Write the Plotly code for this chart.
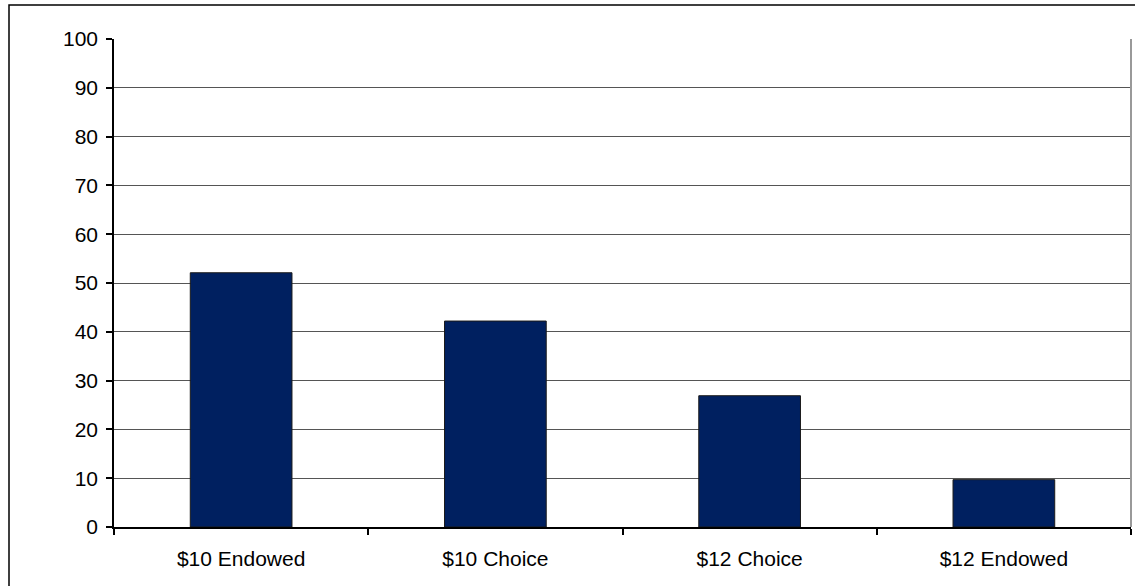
import plotly.graph_objects as go

categories = ["$10 Endowed", "$10 Choice", "$12 Choice", "$12 Endowed"]
values = [52.1, 42.2, 26.9, 9.7]
y_ticks = [0, 10, 20, 30, 40, 50, 60, 70, 80, 90, 100]

fig = go.Figure()
fig.add_trace(go.Bar(
    x=categories, y=values,
    marker=dict(color="#002060", line=dict(color="#1a1a1a", width=1)),
    hoverinfo="x+y",
))

W, H = 1135, 586
L, R, T, B = 114, 4, 39, 59
pw = W - L - R
ph = H - T - B

fig.update_layout(
    width=W, height=H,
    margin=dict(l=L, r=R, t=T, b=B),
    paper_bgcolor="white", plot_bgcolor="white",
    font=dict(family="Liberation Sans, Arial, sans-serif", size=21, color="black"),
    bargap=0.6,
    showlegend=False,
    xaxis=dict(
        type="category",
        showline=True, linecolor="black", linewidth=1.5,
        ticks="outside", tickson="boundaries", ticklen=6, tickcolor="black", tickwidth=1.5,
        showgrid=False, zeroline=False,
        tickfont=dict(size=21),
        ticklabelstandoff=12,
    ),
    yaxis=dict(
        range=[0, 100], tickvals=y_ticks,
        showline=True, linecolor="black", linewidth=1.5,
        ticks="outside", ticklen=6, tickcolor="black", tickwidth=1.5,
        showgrid=True, gridcolor="#555555", gridwidth=1,
        zeroline=False,
        tickfont=dict(size=21),
        ticklabelstandoff=4,
    ),
    shapes=[
        dict(type="line", xref="paper", yref="paper", x0=1, x1=1, y0=0, y1=1,
             line=dict(color="#999999", width=2)),
        dict(type="rect", xref="paper", yref="paper",
             x0=(9 - L) / pw, x1=1.2, y0=-0.3, y1=(H - B - 5) / ph,
             line=dict(color="black", width=1.5), layer="below"),
    ],
)

fig.write_html("out.html")
